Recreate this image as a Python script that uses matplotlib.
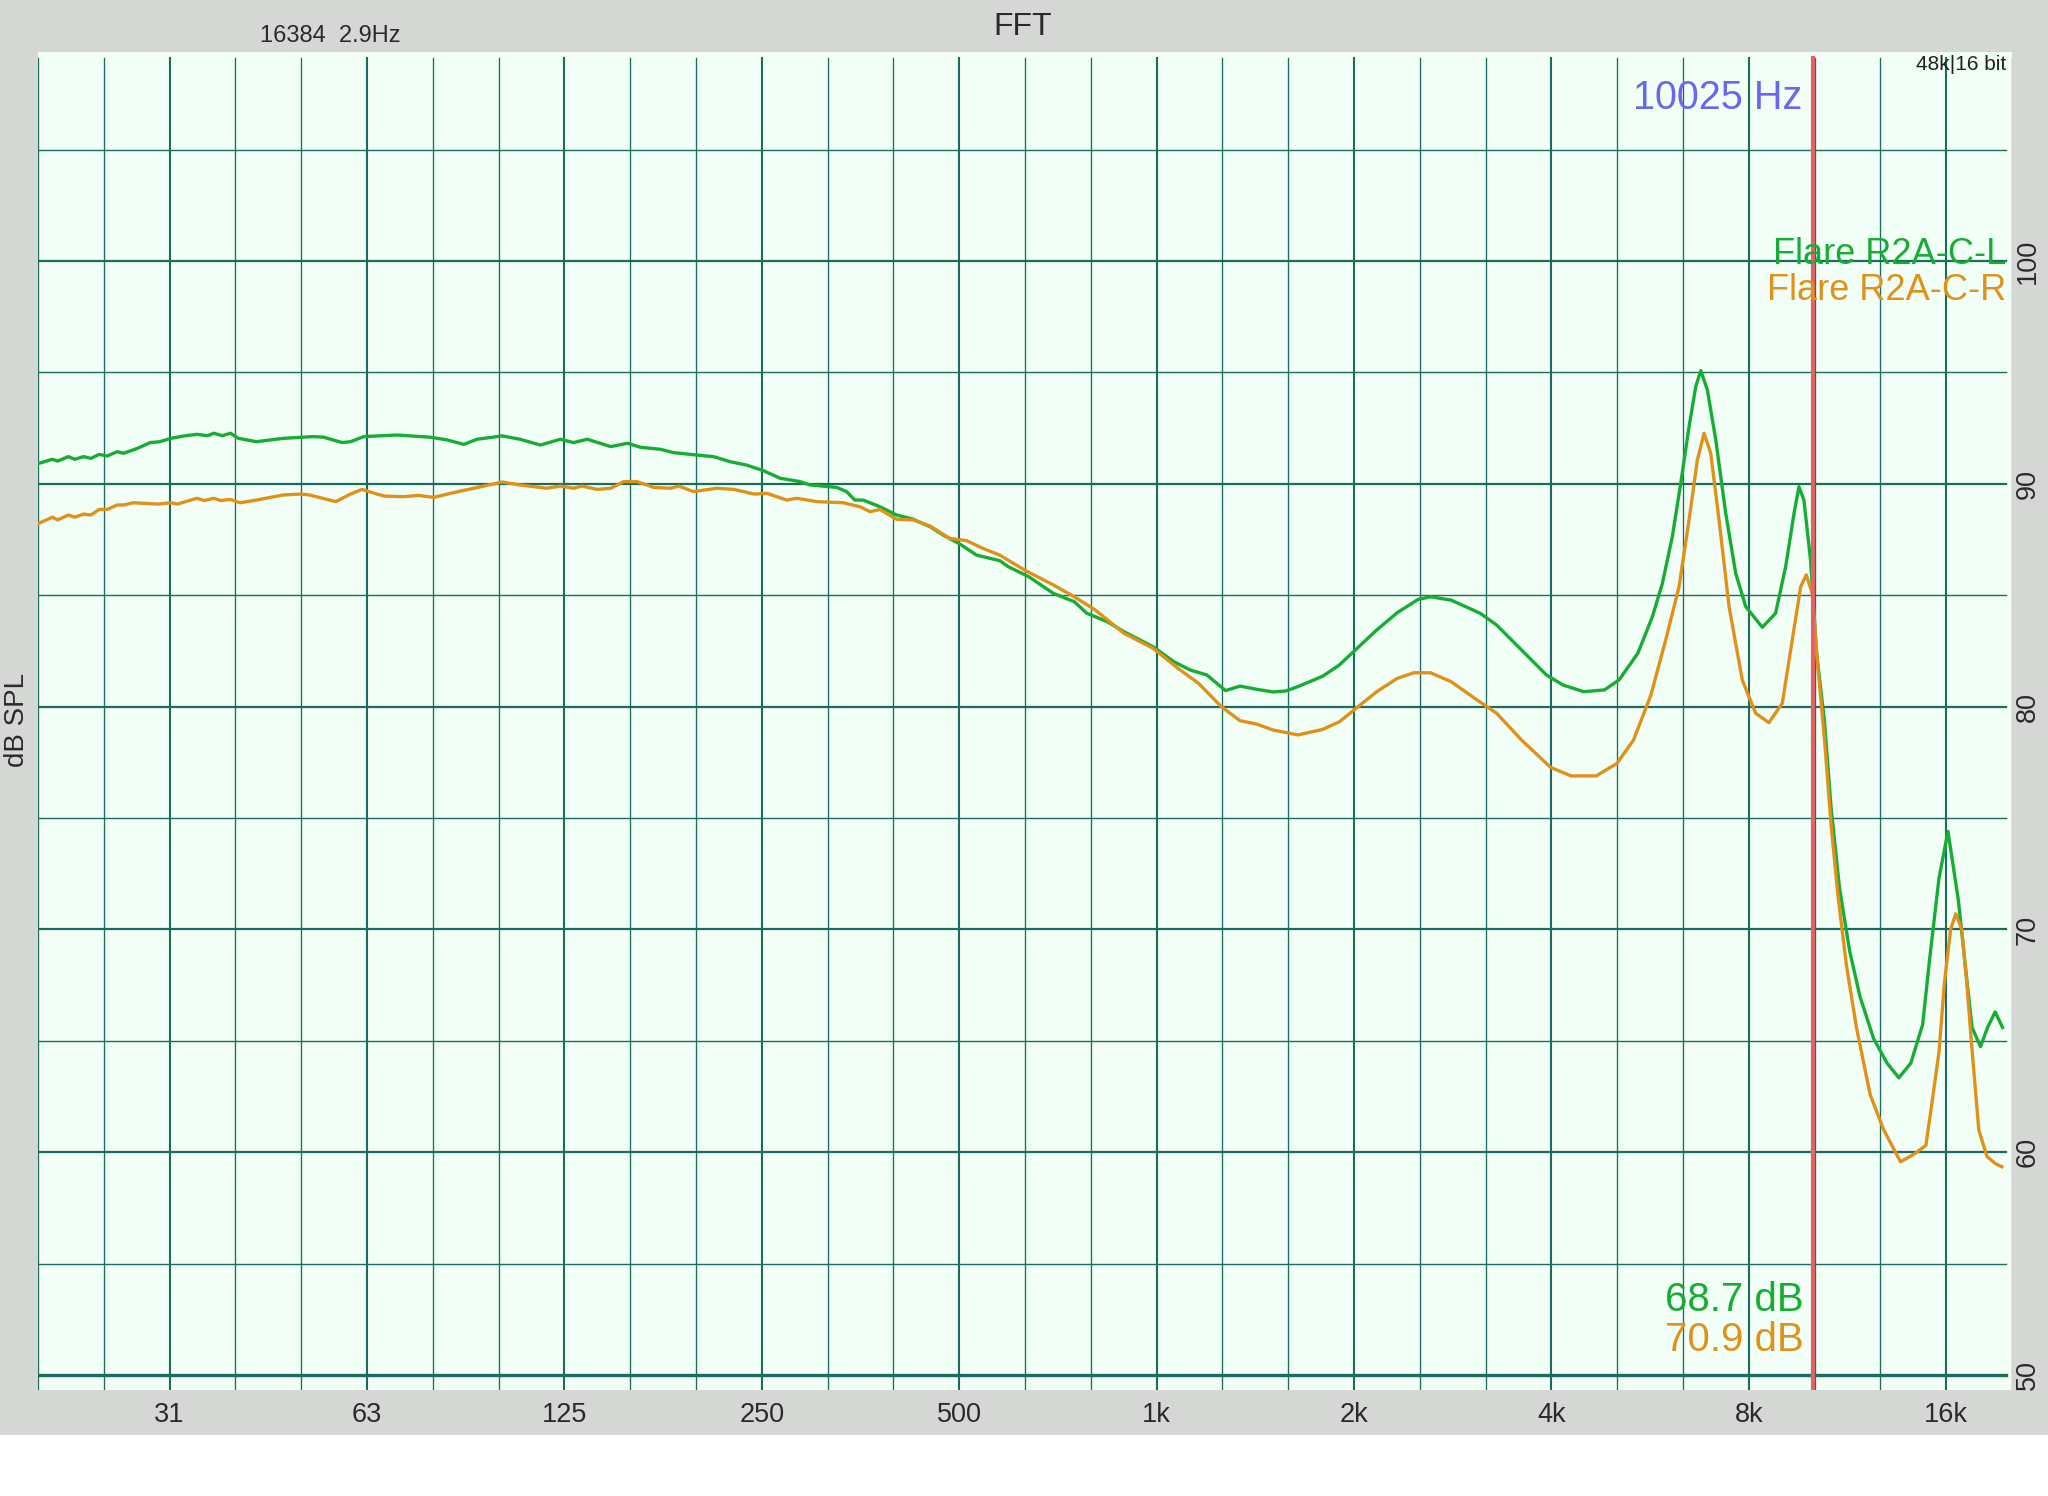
import numpy as np
import matplotlib
matplotlib.use("Agg")
import matplotlib.pyplot as plt
from matplotlib.patches import Rectangle

plt.rcParams['font.family'] = ['Liberation Sans', 'DejaVu Sans']

# ---------------- data ----------------
freq_L = [19.75, 20.7, 21.1, 21.9, 22.4, 23.1, 23.7, 24.4, 25.1, 26.0, 26.6, 27.9, 29.2, 30.2,
          31.4, 32.9, 34.4, 35.7, 36.5, 37.6, 38.7, 39.8, 42.4, 44.5, 46.6, 51.8, 53.7, 57.3,
          59.0, 61.8, 69.5, 78.1, 82.8, 87.8, 92.0, 100.5, 106.9, 114.9, 123.2, 129.1, 135.4,
          147.1, 156.0, 163.3, 175.0, 183.4, 199.0, 211.0, 223.9, 237.0, 251.4, 266.6, 285.8,
          296.0, 325.0, 336.7, 346.6, 357.0, 378.6, 401.4, 425.4, 451.0, 472.6, 501.0, 531.4,
          576.6, 593.9, 638.3, 696.1, 749.0, 782.6, 841.4, 892.0, 987.6, 1062, 1126, 1193,
          1274, 1340, 1420, 1505, 1573, 1643, 1793, 1900, 2014, 2166, 2329, 2504, 2617, 2813,
          3115, 3301, 3602, 3931, 4167, 4481, 4819, 5074, 5420, 5703, 5906, 6116, 6299, 6486,
          6640, 6759, 6917, 7124, 7378, 7641, 7914, 8388, 8789, 9105, 9377, 9541, 9708, 9937,
          10150, 10430, 10680, 11000, 11400, 11820, 12400, 13000, 13550, 14130, 14730, 15100,
          15600, 16100, 16700, 17120, 17520, 18050, 18500, 19000, 19500]
spl_L = [90.92, 91.10, 91.02, 91.22, 91.10, 91.22, 91.14, 91.32, 91.25, 91.44, 91.37, 91.59, 91.85, 91.89,
         92.04, 92.15, 92.22, 92.16, 92.27, 92.16, 92.27, 92.04, 91.89, 91.97, 92.04, 92.12, 92.09, 91.85,
         91.89, 92.12, 92.19, 92.09, 91.97, 91.77, 92.00, 92.15, 92.00, 91.74, 92.00, 91.85, 92.00,
         91.67, 91.82, 91.64, 91.55, 91.40, 91.29, 91.22, 90.99, 90.84, 90.59, 90.25, 90.10,
         89.95, 89.84, 89.65, 89.27, 89.27, 88.97, 88.60, 88.41, 88.08, 87.70, 87.30, 86.80,
         86.55, 86.28, 85.83, 85.08, 84.71, 84.19, 83.81, 83.36, 82.69, 82.02, 81.64, 81.42,
         80.72, 80.92, 80.78, 80.66, 80.70, 80.90, 81.37, 81.87, 82.57, 83.44, 84.22, 84.81, 84.93, 84.78,
         84.19, 83.66, 82.54, 81.42, 80.97, 80.67, 80.75, 81.20, 82.40, 84.04, 85.53, 87.63, 90.02, 92.56,
         94.36, 95.08, 94.21, 91.97, 88.67, 85.98, 84.49, 83.56, 84.19, 86.28, 88.67, 89.87, 89.27, 86.58,
         82.40, 79.40, 75.47, 71.86, 69.03, 66.99, 65.10, 64.00, 63.34, 64.00, 65.73, 68.70,
         72.30, 74.40, 71.30, 68.30, 65.60, 64.74, 65.60, 66.30, 65.60]

freq_R = [19.75, 20.7, 21.1, 21.9, 22.4, 23.1, 23.7, 24.4, 25.1, 26.0, 26.6, 27.5, 30.0, 31.4,
          32.1, 34.4, 35.3, 36.5, 37.4, 38.7, 40.0, 42.0, 44.5, 46.6, 49.5, 51.1, 56.0, 59.0,
          61.4, 64.7, 66.5, 71.0, 74.9, 79.0, 83.7, 90.9, 100.5, 106.9, 117.6, 123.2, 129.1,
          132.9, 140.2, 147.1, 153.9, 161.3, 171.0, 181.4, 186.8, 196.6, 213.4, 226.5, 243.2,
          254.7, 272.9, 282.7, 303.2, 332.9, 352.9, 365.6, 378.6, 401.4, 425.4, 451.0, 483.7,
          513.1, 543.6, 576.6, 629.0, 696.0, 749.0, 806.0, 892.0, 987.6, 1078, 1159, 1255, 1340,
          1420, 1505, 1643, 1793, 1900, 2014, 2166, 2329, 2469, 2617, 2813, 3070, 3301, 3602,
          3990, 4289, 4681, 5034, 5337, 5670, 5975, 6262, 6486, 6678, 6838, 6999, 7206, 7464,
          7820, 8196, 8586, 8998, 9320, 9598, 9789, 9996, 10180, 10430, 10680, 10940, 11270,
          11680, 12250, 12840, 13630, 14300, 14900, 15200, 15600, 15900, 16250, 16550, 16900,
          17200, 17520, 17940, 18470, 19000, 19450]
spl_R = [88.23, 88.50, 88.38, 88.60, 88.50, 88.64, 88.60, 88.85, 88.85, 89.05, 89.05, 89.15, 89.09, 89.15,
         89.09, 89.35, 89.25, 89.35, 89.25, 89.30, 89.15, 89.25, 89.39, 89.50, 89.54, 89.50, 89.20, 89.54,
         89.75, 89.54, 89.45, 89.42, 89.48, 89.39, 89.57, 89.80, 90.08, 89.95, 89.80, 89.90, 89.80,
         89.90, 89.75, 89.80, 90.10, 90.10, 89.84, 89.80, 89.90, 89.65, 89.80, 89.75, 89.54,
         89.57, 89.27, 89.35, 89.20, 89.15, 88.97, 88.75, 88.85, 88.41, 88.38, 88.11, 87.55,
         87.45, 87.10, 86.80, 86.13, 85.46, 84.93, 84.34, 83.29, 82.62, 81.72, 81.04, 80.00, 79.37,
         79.22, 78.95, 78.73, 78.98, 79.32, 79.92, 80.67, 81.27, 81.52, 81.52, 81.12, 80.33, 79.70, 78.50,
         77.27, 76.89, 76.89, 77.45, 78.50, 80.50, 82.99, 85.38, 88.38, 91.07, 92.27, 91.37, 88.38, 84.49,
         81.19, 79.70, 79.28, 80.15, 82.99, 85.38, 85.91, 85.08, 82.00, 78.61, 74.69, 71.54, 68.40,
         65.57, 62.59, 61.02, 59.57, 59.92, 60.31, 62.10, 64.50, 67.60, 70.00, 70.70, 70.00,
         67.60, 64.60, 61.00, 59.80, 59.50, 59.35]

series_names = ["Flare R2A-C-L", "Flare R2A-C-R"]
readouts = ["68.7 dB", "70.9 dB"]
cursor_hz = 10025
xtick_vals = [31.25, 62.5, 125, 250, 500, 1000, 2000, 4000, 8000, 16000]
xtick_labels = ["31", "63", "125", "250", "500", "1k", "2k", "4k", "8k", "16k"]
ytick_vals = [50, 60, 70, 80, 90, 100]

# ---------------- style ----------------
W, H = 2048, 1496
GREY = '#d5d7d5'
PLOTBG = '#f2fff6'
GRID = '#1b6b5f'
GREEN = '#17ad35'
ORANGE = '#e0911b'
RED = '#e06464'
BLUE = '#6868ee'
TXT = '#2a2a2a'

fig = plt.figure(figsize=(W / 100, H / 100), dpi=100, facecolor='white')
fig.patches.append(Rectangle((0, 1 - 1435 / H), 1, 1435 / H, transform=fig.transFigure,
                             facecolor=GREY, edgecolor='none', zorder=-10))

L, R, T, B = 38, 2012, 52, 1390
ax = fig.add_axes([L / W, 1 - B / H, (R - L) / W, (B - T) / H])
ax.set_zorder(1)
ax.set_facecolor(PLOTBG)
ax.set_xscale('log')
xmin, xmax = 1000 * 2 ** (-17 / 3), 1000 * 2 ** (13 / 3)
ymin, ymax = 49.33, 109.38
ax.set_xlim(xmin, xmax)
ax.set_ylim(ymin, ymax)
for s in ax.spines.values():
    s.set_visible(False)
ax.set_xticks([])
ax.set_yticks([])
ax.minorticks_off()

# grid
vtop = 1 - 6 / (B - T)
for k in range(-17, 14):
    f = 1000 * 2 ** (k / 3)
    lw = 1.5 if k % 3 == 0 else 0.95
    ax.axvline(f, ymin=0, ymax=vtop, color=GRID, lw=lw, zorder=1)
hright = (2006 - L) / (R - L)
for v in range(50, 110, 5):
    if v == 50:
        lw = 2.4
    elif v % 10 == 0:
        lw = 1.6
    else:
        lw = 1.0
    ax.axhline(v, xmin=0, xmax=hright, color=GRID, lw=lw, zorder=1)

# curves
ax.plot(freq_L, spl_L, color=GREEN, lw=2.4, zorder=3, solid_joinstyle='round')
ax.plot(freq_R, spl_R, color=ORANGE, lw=2.4, zorder=3, solid_joinstyle='round')

# cursor
ax.axvline(cursor_hz, ymin=0, ymax=vtop, color=RED, lw=3.0, zorder=4)

def fx(px):
    return px / W

def fy(py):
    return 1 - py / H

def ftext(x, y, s, **kw):
    t = fig.text(fx(x), fy(y), s, **kw)
    t.set_zorder(5)
    return t

ftext(1802, 98, f"{cursor_hz} Hz", color=BLUE, fontsize=28.5, ha='right', va='center')
ftext(2006, 64, "48k|16 bit", color='#222222', fontsize=15, ha='right', va='center')
ftext(2006, 255, series_names[0], color=GREEN, fontsize=26, ha='right', va='center')
ftext(2006, 291, series_names[1], color=ORANGE, fontsize=26, ha='right', va='center')
ftext(1804, 1300, readouts[0], color=GREEN, fontsize=29, ha='right', va='center')
ftext(1804, 1340, readouts[1], color=ORANGE, fontsize=29, ha='right', va='center')

# header texts
ftext(1023, 27, "FFT", color=TXT, fontsize=23, ha='center', va='center')
ftext(330, 36, "16384  2.9Hz", color=TXT, fontsize=17, ha='center', va='center')
ftext(17, 720, "dB SPL", color=TXT, fontsize=20, ha='center', va='center', rotation=90)

# x tick labels
for v, lab in zip(xtick_vals, xtick_labels):
    px = L + (R - L) * (np.log2(v) - np.log2(xmin)) / (np.log2(xmax) - np.log2(xmin))
    ftext(px, 1415, lab, color=TXT, fontsize=19.5, ha='center', va='center')

# y tick labels (right side, rotated)
for v in ytick_vals:
    py = B - (B - T) * (v - ymin) / (ymax - ymin)
    ftext(2028, py, str(v), color=TXT, fontsize=19.5, ha='center', va='center', rotation=90)

fig.savefig('out.png', dpi=100, facecolor=fig.get_facecolor())
